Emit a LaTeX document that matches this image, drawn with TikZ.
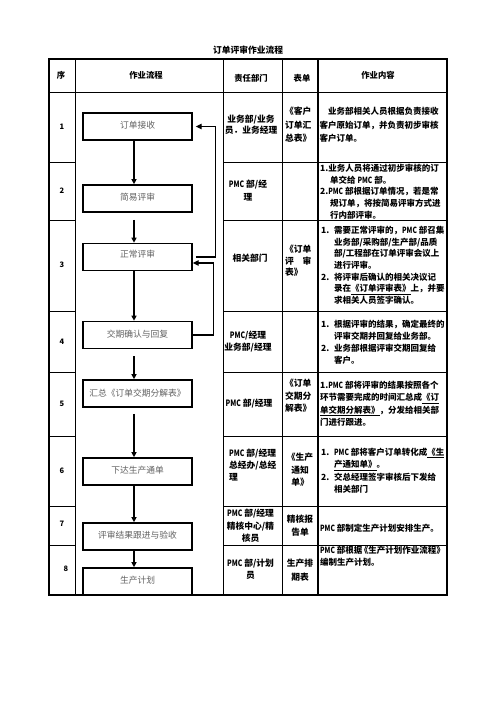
\documentclass[tikz,border=0pt]{standalone}
\usepackage{fontspec}
\setmainfont{Noto Sans CJK SC}
\usetikzlibrary{arrows.meta}
\definecolor{flowtext}{gray}{0.38}
\newcommand\itm[1]{\makebox[15.6pt][l]{#1}}
\newcommand\ind{\hspace*{15.6pt}}
\newcommand\indb{\hspace*{12pt}}
\newcommand\pmc{\scalebox{0.78}[1]{PMC}}
\newcommand\Lt[2]{\vtop{\baselineskip=#1\lineskiplimit=-100pt\lineskip=0pt\relax\halign{##\hfil\cr#2\crcr}}}
\newcommand\Ct[2]{\vtop{\baselineskip=#1\lineskiplimit=-100pt\lineskip=0pt\relax\halign{\hfil##\hfil\cr#2\crcr}}}
\tikzset{
  outerline/.style={line width=2pt},
  innerline/.style={line width=0.9pt},
  midline/.style={line width=1.5pt},
  flowbox/.style={draw, line width=2pt, minimum width=130.8pt, minimum height=32.4pt, inner sep=0pt, text=flowtext, font=\fontsize{10.5}{12}\selectfont},
  flowarrow/.style={line width=1.7pt, -{Triangle[length=6pt,width=6pt]}},
  backarrow/.style={line width=1.4pt, -{Triangle[length=7pt,width=6.5pt]}},
  cell/.style={inner sep=0pt, font=\bfseries\fontsize{10.5}{14}\selectfont},
  cellc/.style={inner sep=0pt, font=\bfseries\fontsize{10.2}{14}\selectfont},
  headtext/.style={inner sep=0pt, font=\bfseries\fontsize{10}{12}\selectfont},
  numtext/.style={inner sep=0pt, font=\bfseries\fontsize{9}{11}\selectfont},
}
\begin{document}
\begin{tikzpicture}[x=1.2pt,y=-1.2pt]
\fill[white] (0,0) rectangle (496,702);
\useasboundingbox (0,0) rectangle (496,702);

% title
\node[headtext, font=\bfseries\fontsize{10.5}{12}\selectfont] (title) at (248,50) {订单评审作业流程};

% table grid
\draw[outerline] (49,59) rectangle (447,595);
\draw[innerline] (75,59) -- (75,595);
\draw[innerline] (223,59) -- (223,595);
\draw[innerline] (282,59) -- (282,595);
\draw[midline] (318,59) -- (318,595);
\draw[innerline] (49,92) -- (447,92);
\foreach \yy in {162,220,311,372,436,506,545} {
  \draw[innerline] (49,\yy) -- (75,\yy);
  \draw[innerline] (223,\yy) -- (447,\yy);
}

% header
\node[headtext] (h1) at (61,75.5) {序};
\node[headtext] (h2) at (146,75.5) {作业流程};
\node[headtext] (h3) at (251,78) {责任部门};
\node[headtext] (h4) at (302,78.5) {表单};
\node[headtext] (h5) at (378,75.5) {作业内容};

% numbers
\node[numtext] (n1) at (62,127) {1};
\node[numtext] (n2) at (62,191) {2};
\node[numtext] (n3) at (62,265) {3};
\node[numtext] (n4) at (62,342) {4};
\node[numtext] (n5) at (62,404) {5};
\node[numtext] (n6) at (62,471) {6};
\node[numtext] (n7) at (62,524) {7};
\node[numtext] (n8) at (66,569) {8};

% flow boxes
\node[flowbox] (b1) at (137.5,126.5) {\raisebox{3pt}{订单接收}};
\node[flowbox] (b2) at (137.5,198.5) {\raisebox{3pt}{简易评审}};
\node[flowbox] (b3) at (137.5,257) {\raisebox{7pt}{正常评审}};
\node[flowbox] (b4) at (137.5,335) {\raisebox{3pt}{交期确认与回复}};
\node[flowbox] (b5) at (137.5,393.5) {\raisebox{2pt}{汇总《订单交期分解表》}};
\node[flowbox] (b6) at (137.5,471.5) {\raisebox{3pt}{下达生产通单}};
\node[flowbox] (b7) at (137.5,536.5) {\raisebox{3pt}{评审结果跟进与验收}};
\node[flowbox] (b8) at (137.5,581.5) {\raisebox{3pt}{生产计划}};

% flow arrows
\coordinate (ax) at (134,0);
\draw[flowarrow] (b1.south -| ax) -- (b2.north -| ax);
\draw[flowarrow] (b2.south -| ax) ++(0,7) -- (b3.north -| ax);
\draw[flowarrow] (b3.south -| ax) -- (b4.north -| ax);
\draw[flowarrow] (b4.south -| ax) ++(0,7) -- (b5.north -| ax);
\draw[flowarrow] (b5.south -| ax) ++(0,6) -- (b6.north -| ax);
\draw[flowarrow] (b6.south -| ax) -- (b7.north -| ax);
\draw[flowarrow] (b7.south -| ax) -- (b8.north -| ax);

% feedback loops
\draw[backarrow] (b3.east) ++(3,0) -- ++(20,0) |- ([xshift=3.6pt]b1.east);
\draw[backarrow] (b4.east) -- ++(21,0) |- ([yshift=-7.2pt]b3.east);

% row 1
\node[cell, anchor=base] (r1c3) at (251,122.5) {\Ct{12.8pt}{业务部/业务\cr 员．业务经理}};
\node[cell, anchor=base west] (r1c4) at (285,114.5) {\Lt{16.2pt}{《客户\cr 订单汇\cr 总表》}};
\node[cellc, anchor=base west] (r1c5) at (319.5,114.5) {\Lt{16.2pt}{\hspace*{10.2pt}业务部相关人员根据负责接收\cr 客户原始订单，并负责初步审核\cr 客户订单。}};

% row 2
\node[cell, anchor=base] (r2c3) at (248,187.5) {\Ct{15.6pt}{\pmc{} 部/经\cr 理}};
\node[cellc, anchor=base west] (r2c5) at (320,171.5) {\Lt{14pt}{1.业务人员将通过初步审核的订\cr \indb 单交给 \pmc{} 部。\cr 2.\pmc{} 部根据订单情况，若是常\cr \indb 规订单，将按简易评审方式进\cr \indb 行内部评审。}};

% row 3
\node[cell, anchor=base] (r3c3) at (250,261.5) {相关部门};
\node[cell, anchor=base west] (r3c4) at (285,252.5) {\Lt{13.8pt}{《订单\cr 评　审\cr 表》}};
\node[cellc, anchor=base west] (r3c5) at (321,233.5) {\Lt{14pt}{\itm{1.}需要正常评审的，\pmc{} 部召集\cr \ind 业务部/采购部/生产部/品质\cr \ind 部/工程部在订单评审会议上\cr \ind 进行评审。\cr \itm{2.}将评审后确认的相关决议记\cr \ind 录在\underline{《订单评审表》}上，并要\cr \ind 求相关人员签字确认。}};

% row 4
\node[cell, anchor=base] (r4c3) at (248,338.5) {\Ct{14.4pt}{\pmc/经理\cr 业务部/经理}};
\node[cellc, anchor=base west] (r4c5) at (321,327.5) {\Lt{14.4pt}{\itm{1.}根据评审的结果，确定最终的\cr \ind 评审交期并回复给业务部。\cr \itm{2.}业务部根据评审交期回复给\cr \ind 客户。}};

% row 5
\node[cell, anchor=base] (r5c3) at (249,406.5) {\pmc{} 部/经理};
\node[cell, anchor=base west] (r5c4) at (285,386.5) {\Lt{15pt}{《订单\cr 交期分\cr 解表》}};
\node[cellc, anchor=base west] (r5c5) at (320,388.5) {\Lt{14.8pt}{1.\pmc{} 部将评审的结果按照各个\cr 环节需要完成的时间汇总成\underline{《订}\cr \underline{单交期分解表》}，分发给相关部\cr 门进行跟进。}};

% row 6
\node[cell, anchor=base west] (r6c3) at (229,456.5) {\Lt{14.4pt}{\pmc{} 部/经理\cr 总经办/总经\cr 理}};
\node[cell, anchor=base] (r6c4) at (300,460.5) {\Ct{15pt}{《生产\cr 通知\cr 单》}};
\node[cellc, anchor=base west] (r6c5) at (321,455.5) {\Lt{14.8pt}{\itm{1.}\pmc{} 部将客户订单转化成\underline{《生}\cr \ind\underline{产通知单》}。\cr \itm{2.}交总经理签字审核后下发给\cr \ind 相关部门}};

% row 7
\node[cell, anchor=base] (r7c3) at (250.5,516.5) {\Ct{15pt}{\pmc{} 部/经理\cr 精核中心/精\cr 核员}};
\node[cell, anchor=base] (r7c4) at (300,522.5) {\Ct{15.6pt}{精核报\cr 告单}};
\node[cellc, anchor=base west] (r7c5) at (320,531.5) {\pmc{} 部制定生产计划安排生产。};

% row 8
\node[cell, anchor=base] (r8c3) at (250.5,566.5) {\Ct{14.4pt}{\pmc{} 部/计划\cr 员}};
\node[cell, anchor=base] (r8c4) at (300,566.5) {\Ct{16.8pt}{生产排\cr 期表}};
\node[cellc, anchor=base west] (r8c5) at (320,553.5) {\Lt{14.4pt}{\pmc{} 部根据\kern-3pt《生产计划作业流程》\cr 编制生产计划。}};
\end{tikzpicture}
\end{document}
